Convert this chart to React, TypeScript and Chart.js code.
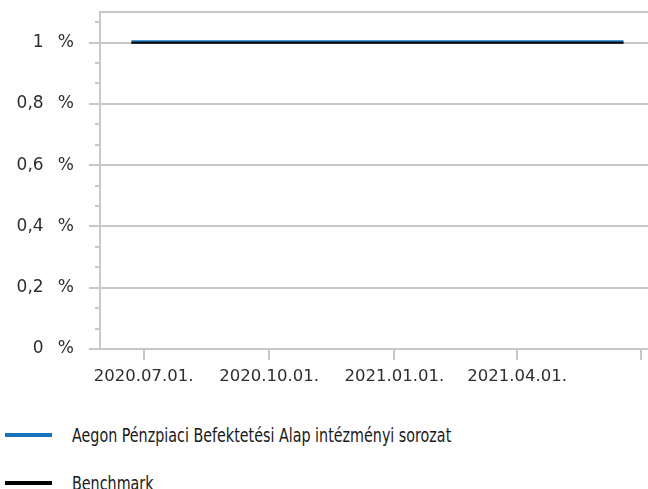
import React, { useEffect, useRef } from 'react';
import { Chart, registerables } from 'chart.js';

Chart.register(...registerables);

// ---- data ----
const seriesNames = ['Aegon Pénzpiaci Befektetési Alap intézményi sorozat', 'Benchmark'];
const seriesColors = ['#1574bd', '#000000'];
const dates = [
  '2020-06-22', '2020-07-31', '2020-08-31', '2020-09-30', '2020-10-30', '2020-11-30',
  '2020-12-31', '2021-01-29', '2021-02-26', '2021-03-31', '2021-04-30', '2021-05-31', '2021-06-18',
];
const fundValues = [1.003, 1.003, 1.003, 1.003, 1.003, 1.003, 1.003, 1.003, 1.003, 1.003, 1.003, 1.003, 1.003];
const benchmarkValues = [1, 1, 1, 1, 1, 1, 1, 1, 1, 1, 1, 1, 1];
const xTickDates = ['2020-07-01', '2020-10-01', '2021-01-01', '2021-04-01', '2021-07-01'];
const xTickLabels = ['2020.07.01.', '2020.10.01.', '2021.01.01.', '2021.04.01.', ''];
const xRange = ['2020-05-30', '2021-07-06'];
const yMajorTicks = [0, 0.2, 0.4, 0.6, 0.8, 1, 1.1];
const yTickLabels = ['0  \u2009%', '0,2  \u2009%', '0,4  \u2009%', '0,6  \u2009%', '0,8  \u2009%', '1  \u2009%', ''];
const yMinorTicks = [
  0, 0.0667, 0.1333, 0.2, 0.2667, 0.3333, 0.4, 0.4667, 0.5333, 0.6, 0.6667, 0.7333, 0.8,
  0.8667, 0.9333, 1, 1.0667,
];
const yRange = [0, 1.1];

const BASE = Date.parse('2020-07-01T00:00:00Z');
const day = (s: string) => (Date.parse(s + 'T00:00:00Z') - BASE) / 86400000;

const GRAY = '#c8c8c8';
const X_FONT = { family: '"DejaVu Sans", Verdana, sans-serif', size: 16.5 };
const Y_FONT = { family: '"DejaVu Sans", Verdana, sans-serif', size: 17 };
const TEXT_COLOR = '#2e2e2e';

export default function App() {
  const ref = useRef<HTMLCanvasElement | null>(null);

  useEffect(() => {
    document.body.style.margin = '0';
    if (!ref.current) return;
    const chart = new Chart(ref.current, {
      type: 'line',
      data: {
        datasets: [
          {
            label: seriesNames[0],
            data: dates.map((d, i) => ({ x: day(d), y: fundValues[i] })),
            borderColor: seriesColors[0],
            backgroundColor: seriesColors[0],
            borderWidth: 3,
            pointRadius: 0,
            order: 1,
          },
          {
            label: seriesNames[1],
            data: dates.map((d, i) => ({ x: day(d), y: benchmarkValues[i] })),
            borderColor: seriesColors[1],
            backgroundColor: seriesColors[1],
            borderWidth: 2,
            pointRadius: 0,
            order: 0,
          },
        ],
      },
      options: {
        animation: false,
        responsive: false,
        maintainAspectRatio: false,
        layout: { padding: { top: 12, left: 0, right: 0, bottom: 0 } },
        plugins: { legend: { display: false }, tooltip: { enabled: false } },
        scales: {
          x: {
            type: 'linear',
            min: day(xRange[0]),
            max: day(xRange[1]),
            afterBuildTicks: (axis: any) => {
              axis.ticks = xTickDates.map((d) => ({ value: day(d) }));
            },
            afterFit: (axis: any) => {
              axis.height = 51;
              axis.paddingLeft = 0;
              axis.paddingRight = 0;
            },
            ticks: {
              callback: (_v: any, i: number) => xTickLabels[i],
              autoSkip: false,
              maxRotation: 0,
              padding: 7,
              font: X_FONT,
              color: TEXT_COLOR,
            },
            grid: { drawOnChartArea: false, color: GRAY, lineWidth: 2, tickLength: 11 },
            border: { color: GRAY, width: 2 },
          },
          y: {
            type: 'linear',
            position: 'left',
            weight: 1,
            min: yRange[0],
            max: yRange[1],
            afterBuildTicks: (axis: any) => {
              axis.ticks = yMajorTicks.map((v) => ({ value: v }));
            },
            afterFit: (axis: any) => {
              axis.width = 95;
              axis.paddingTop = 0;
              axis.paddingBottom = 0;
            },
            ticks: {
              callback: (_v: any, i: number) => yTickLabels[i],
              padding: 15,
              font: Y_FONT,
              color: TEXT_COLOR,
            },
            grid: {
              color: GRAY,
              lineWidth: 2,
              tickLength: 6,
              tickColor: (ctx: any) => (ctx.tick && ctx.tick.value === 1.1 ? 'rgba(0,0,0,0)' : GRAY),
            },
            border: { display: false },
          },
          yMinor: {
            type: 'linear',
            position: 'left',
            weight: 0,
            min: yRange[0],
            max: yRange[1],
            afterBuildTicks: (axis: any) => {
              axis.ticks = yMinorTicks.map((v) => ({ value: v }));
            },
            afterFit: (axis: any) => {
              axis.width = 5;
              axis.paddingTop = 0;
              axis.paddingBottom = 0;
            },
            ticks: { display: false },
            grid: { drawOnChartArea: false, color: GRAY, lineWidth: 2, tickLength: 5 },
            border: { color: GRAY, width: 2 },
          },
        },
      },
    } as any);
    return () => chart.destroy();
  }, []);

  const legendFont = '"DejaVu Sans Condensed", "DejaVu Sans", sans-serif';

  return (
    <div style={{ position: 'absolute', left: 0, top: 0, width: 648, height: 489, background: '#fff', overflow: 'hidden' }}>
      <canvas ref={ref} width={648} height={400} style={{ display: 'block', width: 648, height: 400 }} />
      {seriesNames.map((name, i) => (
        <div
          key={name}
          style={{
            position: 'absolute',
            left: 0,
            top: 420 + i * 48,
            height: 30,
            display: 'flex',
            alignItems: 'center',
            whiteSpace: 'nowrap',
          }}
        >
          <div style={{ marginLeft: 5, width: 47, height: 4, background: seriesColors[i], flex: 'none' }} />
          <span
            style={{
              marginLeft: 20,
              fontFamily: legendFont,
              fontSize: 19,
              color: '#1a1a1a',
              lineHeight: '30px',
              display: 'inline-block',
              transform: 'scaleX(0.837)',
              transformOrigin: 'left center',
            }}
          >
            {name}
          </span>
        </div>
      ))}
    </div>
  );
}
